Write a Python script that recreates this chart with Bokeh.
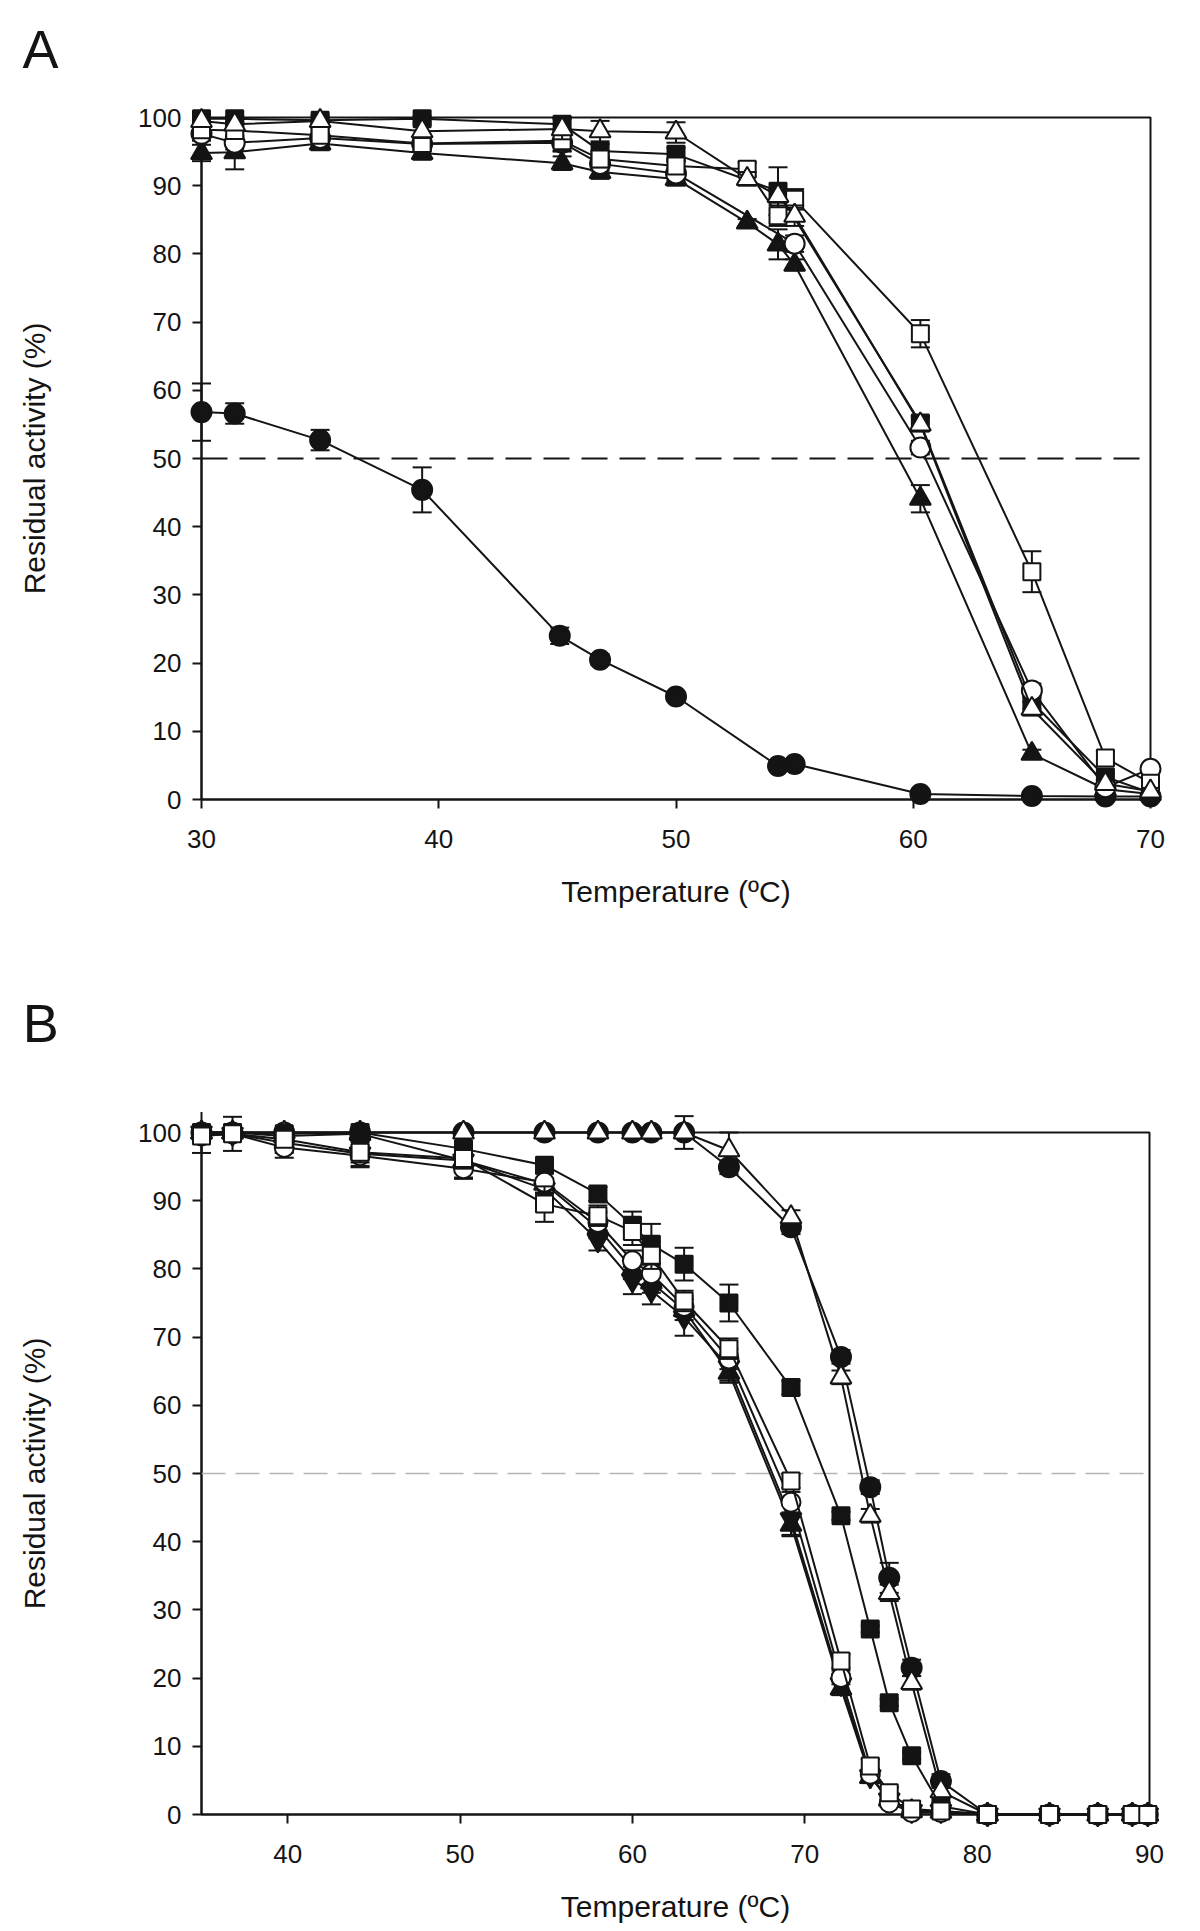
from bokeh.plotting import figure
from bokeh.layouts import column
from bokeh.models import Range1d, FixedTicker, Span
from bokeh.core.properties import value
from bokeh.embed import file_html
from bokeh.resources import INLINE

FONT = "Liberation Sans"
INK = "#141414"

# ---------------- Panel A data ----------------
A_XTICKS = [30, 40, 50, 60, 70]
A_YTICKS = [0, 10, 20, 30, 40, 50, 60, 70, 80, 90, 100]

A_FC_X = [30, 31.4, 35, 39.3, 45.1, 46.8, 50, 54.3, 55, 60.3, 65, 68.1, 70]
A_FC_Y = [56.8, 56.6, 52.7, 45.4, 24.0, 20.5, 15.1, 4.9, 5.2, 0.8, 0.5, 0.45, 0.45]
A_FC_E = [4.2, 1.5, 1.5, 3.3, 1.2, 0.8, 0.6, 0.4, 0.4, 0.3, 0.2, 0.2, 0.2]

A_FS_X = [30, 31.4, 35, 39.3, 45.2, 46.8, 50, 54.3, 60.3, 65, 68.1, 70]
A_FS_Y = [99.8, 99.8, 99.6, 99.8, 99.0, 95.1, 94.6, 89.2, 55.2, 14.3, 3.3, 1.0]
A_FS_E = [0.4, 0.4, 0.4, 0.4, 1.0, 1.0, 1.0, 3.5, 1.0, 1.0, 0.5, 0.4]

A_FT_X = [30, 31.4, 35, 39.3, 45.2, 46.8, 50, 53, 54.3, 55, 60.3, 65, 68.1, 70]
A_FT_Y = [94.8, 94.9, 96.2, 94.8, 93.3, 92.0, 91.0, 84.6, 81.4, 78.4, 44.1, 6.7, 1.5, 0.8]
A_FT_E = [1.2, 2.5, 1.0, 1.0, 1.0, 1.0, 1.0, 0.5, 2.2, 0.8, 2.0, 0.6, 0.5, 0.4]

A_OC_X = [30, 31.4, 35, 39.3, 45.2, 46.8, 50, 55, 60.3, 65, 68.1, 70]
A_OC_Y = [97.6, 96.3, 97.0, 96.1, 96.3, 93.2, 91.8, 81.5, 51.6, 16.0, 1.8, 4.5]
A_OC_E = [1.0, 1.0, 1.0, 1.0, 1.3, 1.0, 1.0, 1.2, 1.0, 1.0, 0.5, 0.5]

A_OS_X = [30, 31.4, 35, 39.3, 45.2, 46.8, 50, 53, 54.3, 55, 60.3, 65, 68.1, 70]
A_OS_Y = [98.2, 98.1, 97.4, 96.2, 96.6, 93.9, 92.9, 92.4, 85.6, 88.0, 68.3, 33.4, 6.1, 2.4]
A_OS_E = [1.0, 1.0, 1.0, 1.0, 1.5, 1.2, 1.0, 1.0, 1.5, 1.5, 2.0, 3.0, 1.0, 0.5]

A_OT_X = [30, 31.4, 35, 39.3, 45.2, 46.8, 50, 53, 54.3, 55, 60.3, 65, 68.1, 70]
A_OT_Y = [99.5, 99.0, 99.5, 98.0, 98.3, 98.0, 97.8, 91.0, 88.5, 85.6, 55.0, 13.3, 2.3, 1.2]
A_OT_E = [0.8, 0.8, 0.8, 1.0, 1.5, 1.5, 1.5, 1.0, 1.0, 1.5, 1.0, 1.0, 0.5, 0.5]

# ---------------- Panel B data ----------------
B_XTICKS = [40, 50, 60, 70, 80, 90]
B_YTICKS = [0, 10, 20, 30, 40, 50, 60, 70, 80, 90, 100]

B_X = [35, 36.8, 39.8, 44.2, 50.2, 54.9, 58.0, 60.0, 61.1, 63.0, 65.6, 69.2,
       72.1, 73.8, 74.9, 76.2, 77.9, 80.6, 84.2, 87.0, 89.0, 89.9]

B_FC_Y = [100, 100, 100, 100, 100, 100, 100, 100, 100, 100, 94.9, 86.1,
          67.1, 48.0, 34.7, 21.5, 4.9, 0, 0, 0, 0, 0]
B_FC_E = [0.5, 0.5, 0.5, 0.5, 0.5, 0.5, 0.5, 0.5, 0.5, 0.5, 1.0, 1.0,
          1.0, 1.0, 2.2, 1.2, 1.0, 0, 0, 0, 0, 0]

B_OT_Y = [100, 100, 100, 100, 100, 100, 100, 100, 100, 100, 97.4, 87.6,
          64.1, 43.8, 32.5, 19.3, 3.4, 0, 0, 0, 0, 0]
B_OT_E = [0.5, 0.5, 0.5, 0.5, 0.5, 0.5, 0.5, 0.5, 0.5, 2.4, 2.6, 1.0,
          1.0, 1.0, 1.2, 1.0, 0.8, 0, 0, 0, 0, 0]

B_FS_Y = [100, 100, 99.8, 100, 97.6, 95.2, 91.0, 86.4, 83.6, 80.7, 75.0, 62.6,
          43.8, 27.2, 16.4, 8.6, 1.2, 0, 0, 0, 0, 0]
B_FS_E = [0.5, 0.5, 0.5, 0.5, 1.0, 1.0, 1.0, 2.0, 3.0, 2.4, 2.7, 1.0,
          0.6, 0.5, 0.5, 0.5, 0.5, 0, 0, 0, 0, 0]

B_FT_Y = [100, 100, 99.5, 99.8, 95.9, 92.5, 86.0, 80.0, 78.0, 74.0, 64.8, 42.5,
          18.5, 5.5, 2.2, 0.5, 0.4, 0, 0, 0, 0, 0]
B_FT_E = [1.0, 1.0, 1.0, 1.0, 1.5, 1.5, 1.5, 1.5, 1.5, 1.5, 1.5, 1.5,
          1.0, 0.8, 0.5, 0.3, 0.3, 0, 0, 0, 0, 0]

B_FD_Y = [100, 99.8, 98.5, 96.9, 95.9, 91.7, 84.2, 78.3, 76.8, 72.9, 65.6, 43.3,
          19.1, 5.6, 2.2, 0.5, 0.5, 0, 0, 0, 0, 0]
B_FD_E = [3.0, 2.5, 1.5, 2.0, 2.5, 1.5, 1.5, 2.0, 2.0, 2.7, 2.0, 2.5,
          1.5, 1.0, 0.5, 0.3, 0.3, 0, 0, 0, 0, 0]

B_OC_Y = [99.5, 99.8, 97.8, 96.6, 94.7, 92.7, 86.8, 81.2, 79.3, 74.5, 66.8, 45.8,
          20.1, 5.9, 1.7, 0.3, 0.3, 0, 0, 0, 0, 0]
B_OC_E = [1.0, 1.0, 1.5, 1.5, 1.5, 1.5, 1.5, 1.5, 1.5, 1.5, 1.5, 1.5,
          1.0, 0.8, 0.5, 0.3, 0.3, 0, 0, 0, 0, 0]

B_OS_Y = [99.5, 99.8, 99.0, 97.1, 96.2, 89.5, 87.8, 85.5, 82.0, 75.3, 68.3, 48.9,
          22.5, 7.1, 3.2, 0.8, 0.5, 0, 0, 0, 0, 0]
B_OS_E = [1.0, 1.0, 1.0, 1.5, 1.5, 2.6, 1.5, 2.0, 2.0, 1.5, 1.5, 1.0,
          1.0, 1.0, 0.8, 0.4, 0.3, 0, 0, 0, 0, 0]

# panel letters and where they sit (data coordinates of each panel)
PANEL_A = {"text": ["A"], "x": [22.45], "y": [110.0]}
PANEL_B = {"text": ["B"], "x": [24.63], "y": [116.0]}


def make_fig(xr, xticks, frame_w, frame_h, mb_left, mb_right, mb_top, mb_bottom):
    p = figure(frame_width=frame_w, frame_height=frame_h,
               x_range=Range1d(*xr), y_range=Range1d(0, 100),
               output_backend="svg", toolbar_location=None,
               min_border_left=mb_left, min_border_right=mb_right,
               min_border_top=mb_top, min_border_bottom=mb_bottom,
               background_fill_color="white", border_fill_color="white")
    p.grid.visible = False
    p.outline_line_color = INK
    p.outline_line_width = 2
    p.outline_line_alpha = 1.0
    p.xaxis.ticker = FixedTicker(ticks=xticks)
    p.yaxis.ticker = FixedTicker(ticks=A_YTICKS)
    for ax in (p.xaxis[0], p.yaxis[0]):
        ax.axis_line_color = INK
        ax.axis_line_width = 2
        ax.major_tick_line_color = INK
        ax.major_tick_line_width = 2
        ax.major_tick_out = 9
        ax.major_tick_in = 0
        ax.minor_tick_line_color = None
        ax.major_label_text_font = FONT
        ax.major_label_text_font_size = "26px"
        ax.major_label_text_color = INK
        ax.axis_label_text_font = FONT
        ax.axis_label_text_font_size = "30px"
        ax.axis_label_text_font_style = "normal"
        ax.axis_label_text_color = INK
    p.xaxis.axis_label = "Temperature (ºC)"
    p.yaxis.axis_label = "Residual activity (%)"
    p.xaxis.major_label_standoff = 21
    p.xaxis.axis_label_standoff = 24
    p.yaxis.major_label_standoff = 11
    p.yaxis.axis_label_standoff = 84
    return p


def draw_series(p, x, y, err, marker, fill, size):
    lo = [v - e for v, e in zip(y, err)]
    hi = [v + e for v, e in zip(y, err)]
    p.segment(x0=x, y0=lo, x1=x, y1=hi, line_color=INK, line_width=2, level="overlay")
    p.scatter(x, hi, marker="dash", size=19, line_color=INK, line_width=2, level="overlay")
    p.scatter(x, lo, marker="dash", size=19, line_color=INK, line_width=2, level="overlay")
    p.line(x, y, line_color=INK, line_width=2, level="overlay")
    p.scatter(x, y, marker=marker, size=size, fill_color=fill, line_color=INK,
              line_width=2, level="overlay")


def panel_letter(p, src):
    p.text(x=src["x"], y=src["y"], text=src["text"], text_font=value(FONT),
           text_font_size="54px", text_color=INK, text_align="left",
           text_baseline="alphabetic", level="overlay")


# ---------------- Panel A ----------------
pA = make_fig((30, 70), A_XTICKS, 949, 682, 201, 41, 117, 160)
pA.add_layout(Span(location=50, dimension="width", line_color=INK,
                   line_width=2, line_dash="26 12"))
draw_series(pA, A_FC_X, A_FC_Y, A_FC_E, "circle", INK, 20)
draw_series(pA, A_FS_X, A_FS_Y, A_FS_E, "square", INK, 17)
draw_series(pA, A_FT_X, A_FT_Y, A_FT_E, "triangle", INK, 21)
draw_series(pA, A_OC_X, A_OC_Y, A_OC_E, "circle", "white", 20)
draw_series(pA, A_OS_X, A_OS_Y, A_OS_E, "square", "white", 17)
draw_series(pA, A_OT_X, A_OT_Y, A_OT_E, "triangle", "white", 21)
panel_letter(pA, PANEL_A)

# ---------------- Panel B ----------------
pB = make_fig((35, 90), B_XTICKS, 948, 682, 200, 43, 173, 108)
pB.add_layout(Span(location=50, dimension="width", line_color="#b4b4b4",
                   line_width=1.5, line_dash="24 10"))
draw_series(pB, B_X, B_FC_Y, B_FC_E, "circle", INK, 20)
draw_series(pB, B_X, B_OT_Y, B_OT_E, "triangle", "white", 21)
draw_series(pB, B_X, B_FS_Y, B_FS_E, "square", INK, 17)
draw_series(pB, B_X, B_FT_Y, B_FT_E, "triangle", INK, 21)
draw_series(pB, B_X, B_FD_Y, B_FD_E, "inverted_triangle", INK, 21)
draw_series(pB, B_X, B_OC_Y, B_OC_E, "circle", "white", 19)
draw_series(pB, B_X, B_OS_Y, B_OS_E, "square", "white", 17)
panel_letter(pB, PANEL_B)

layout = column(pA, pB, spacing=0)

with open("out.html", "w") as f:
    f.write(file_html(layout, INLINE))
